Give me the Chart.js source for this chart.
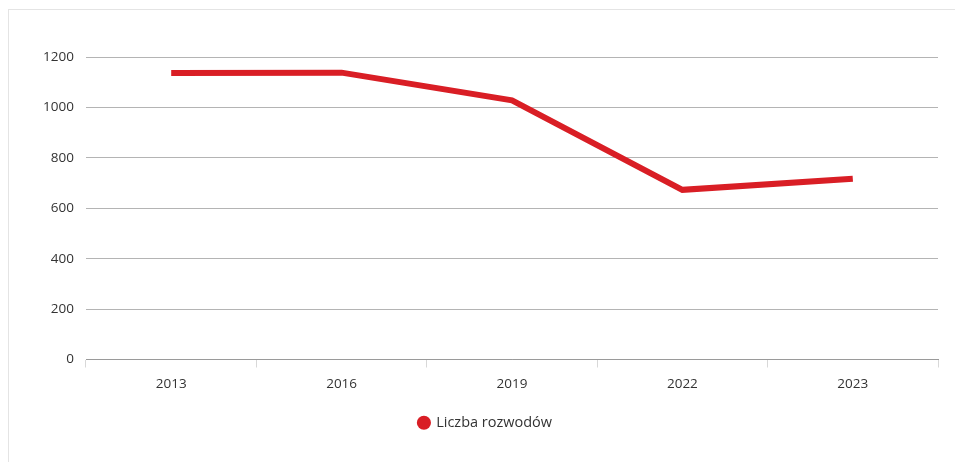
<!DOCTYPE html>
<html>
<head>
<meta charset="utf-8">
<script src="https://cdn.jsdelivr.net/npm/chart.js@4/dist/chart.umd.min.js"></script>
<style>
  html, body { margin: 0; padding: 0; background: #fff; overflow: hidden; }
  .card { position: absolute; left: 8px; top: 9px; width: 1000px; height: 500px; border: 1px solid #e4e4e4; }
  .wrap { position: absolute; left: 0; top: 0; width: 955px; height: 462px; }
</style>
</head>
<body>
<div class="card"></div>
<div class="wrap"><canvas id="myChart"></canvas></div>
<script>
const years = ['2013', '2016', '2019', '2022', '2023'];
const divorces = [1137, 1138, 1028, 673, 717];
const yTicks = [0, 200, 400, 600, 800, 1000, 1200];
const seriesLabel = 'Liczba rozwodów';

const font = { family: '"Open Sans", sans-serif', size: 13.5 };

const ctx = document.getElementById('myChart');
const myChart = new Chart(ctx, {
  type: 'line',
  data: {
    labels: years,
    datasets: [{
      label: seriesLabel,
      data: divorces,
      borderColor: '#d91e25',
      backgroundColor: '#d91e25',
      borderWidth: 6,
      pointRadius: 0,
      pointHoverRadius: 0,
      tension: 0,
      fill: false
    }]
  },
  options: {
    responsive: true,
    maintainAspectRatio: false,
    animation: false,
    layout: { padding: { top: 57, right: 17, left: 33, bottom: 22 } },
    plugins: {
      tooltip: { enabled: false },
      legend: {
        position: 'bottom',
        labels: {
          usePointStyle: true,
          pointStyle: 'circle',
          boxWidth: 10,
          boxHeight: 10,
          color: '#333',
          font: { family: font.family, size: 14.5 },
          padding: 10,
          generateLabels: chart => Chart.defaults.plugins.legend.labels.generateLabels(chart)
            .map(item => ({ ...item, lineWidth: 0 }))
        }
      }
    },
    scales: {
      x: {
        offset: true,
        grid: {
          offset: true,
          drawOnChartArea: false,
          drawTicks: true,
          tickLength: 8,
          color: '#d8d8d8'
        },
        border: { display: true, color: '#9a9a9a', width: 1 },
        ticks: { color: '#333', font: font, padding: 9 },
        afterFit: scale => { scale.height = 46; }
      },
      y: {
        min: 0,
        max: 1200,
        afterBuildTicks: scale => { scale.ticks = yTicks.map(v => ({ value: v })); },
        grid: { drawTicks: false, color: '#b4b4b4', lineWidth: 1 },
        border: { display: false },
        ticks: { color: '#333', font: font, padding: 12, callback: v => String(v) },
        afterFit: scale => { scale.width = 53; }
      }
    }
  }
});
</script>
</body>
</html>
